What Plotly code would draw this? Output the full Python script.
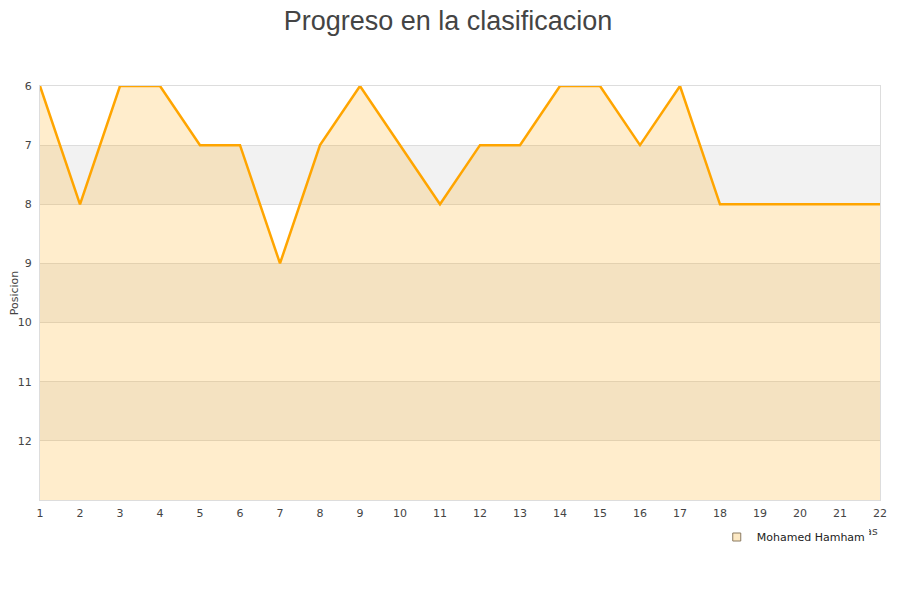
import plotly.graph_objects as go

jornadas = list(range(1, 23))
posiciones = [6, 8, 6, 6, 7, 7, 9, 7, 6, 7, 8, 7, 7, 6, 6, 7, 6, 8, 8, 8, 8, 8]
jugador = "Mohamed Hamham"
y_ticks = [6, 7, 8, 9, 10, 11, 12]
y_bottom = 13

fig = go.Figure()

# baseline at bottom of the chart for the area fill
fig.add_trace(go.Scatter(x=jornadas, y=[y_bottom] * len(jornadas), mode="lines",
                         line=dict(width=0, color="rgba(0,0,0,0)"),
                         showlegend=False, hoverinfo="skip"))
fig.add_trace(go.Scatter(x=jornadas, y=posiciones, mode="lines", fill="tonexty",
                         fillcolor="rgba(255,165,0,0.2)",
                         line=dict(color="#FFA500", width=2.5),
                         showlegend=False, name=jugador))
# legend entry
fig.add_trace(go.Scatter(x=[None], y=[None], mode="markers", name=jugador,
                         marker=dict(symbol="square", size=8, color="#fde9c4",
                                     line=dict(color="#8a7a60", width=1))))

shapes = []
for y0 in [7, 9, 11]:
    shapes.append(dict(type="rect", xref="paper", yref="y", x0=0, x1=1, y0=y0, y1=y0 + 1,
                       fillcolor="#f2f2f2", line=dict(width=0), layer="below"))

# page has an 8px body margin, so margins are shifted accordingly
fig.update_layout(
    width=900, height=600,
    paper_bgcolor="white", plot_bgcolor="white",
    margin=dict(l=32, r=28, t=78, b=108, autoexpand=False),
    title=dict(text="Progreso en la clasificacion", xref="container", x=440 / 900,
               xanchor="center", yref="container", y=1 - 3 / 600, yanchor="top",
               pad=dict(t=0, b=0),
               font=dict(family="Liberation Sans, Arial, sans-serif", size=27, color="#444")),
    font=dict(family="DejaVu Sans, sans-serif", size=11, color="#444"),
    shapes=shapes,
    annotations=[dict(text="Jornadas", xref="paper", yref="paper", x=1, y=-31 / 414,
                      xanchor="right", yanchor="middle", showarrow=False,
                      width=9, align="right",
                      font=dict(size=11, color="#444"))],
    showlegend=True,
    legend=dict(x=0.989, y=-37 / 414, xanchor="right", yanchor="middle",
                orientation="h", font=dict(size=11, color="#222"),
                bgcolor="rgba(0,0,0,0)"),
    xaxis=dict(range=[1, 22], tickmode="array", tickvals=jornadas, automargin=False,
               showgrid=False, zeroline=False, showline=True, linecolor="#dddddd",
               mirror=True, ticks="", ticklabelstandoff=3,
               tickfont=dict(size=11, color="#444")),
    yaxis=dict(range=[y_bottom, 6], tickmode="array", tickvals=y_ticks, automargin=False,
               showgrid=True, gridcolor="#dddddd", zeroline=False,
               showline=True, linecolor="#dddddd", mirror=True, ticks="",
               ticklabelstandoff=5,
               title=dict(text="Posicion", font=dict(size=11, color="#444"), standoff=1),
               tickfont=dict(size=11, color="#444")),
)

fig.write_html("out.html")
